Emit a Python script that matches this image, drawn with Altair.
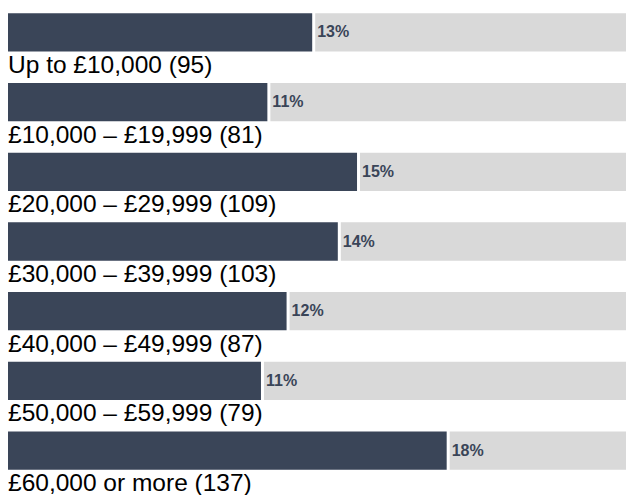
import altair as alt
import pandas as pd

categories = [
    "Up to £10,000",
    "£10,000 – £19,999",
    "£20,000 – £29,999",
    "£30,000 – £39,999",
    "£40,000 – £49,999",
    "£50,000 – £59,999",
    "£60,000 or more",
]
counts = [95, 81, 109, 103, 87, 79, 137]
pct_labels = ["13%", "11%", "15%", "14%", "12%", "11%", "18%"]
scale_max = 193.0

df = pd.DataFrame({
    "category": categories,
    "count": counts,
    "pct": pct_labels,
    "label": [f"{c} ({n})" for c, n in zip(categories, counts)],
    "full": [scale_max] * len(categories),
})

DARK = "#3a4558"
GRAY = "#d9d9d9"
FONT = "Liberation Sans"

x_scale = alt.Scale(domain=[0, scale_max], nice=False, zero=True)
y_enc = alt.Y(
    "category:N",
    sort=categories,
    scale=alt.Scale(paddingInner=0.45, paddingOuter=0.076),
    axis=None,
)

base = alt.Chart(df)

gray = base.mark_bar(color=GRAY, xOffset=3, clip=True).encode(
    x=alt.X("count:Q", scale=x_scale, axis=None),
    x2="full:Q",
    y=y_enc,
)

dark = base.mark_bar(color=DARK).encode(
    x=alt.X("count:Q", scale=x_scale, axis=None),
    y=y_enc,
)

pct = base.mark_text(
    align="left", baseline="middle", dx=5, font=FONT, fontSize=16,
    fontWeight="bold", color=DARK,
).encode(
    x=alt.X("count:Q", scale=x_scale, axis=None),
    y=y_enc,
    text="pct:N",
)

labels = base.mark_text(
    align="left", baseline="alphabetic", dy=40.5, font=FONT, fontSize=24.5,
    color="#000000",
).encode(
    x=alt.value(0),
    y=y_enc,
    text="label:N",
)

chart = (
    alt.layer(gray, dark, pct, labels)
    .properties(
        width=618,
        height=467,
        autosize=alt.AutoSizeParams(type="none"),
        padding={"left": 0, "top": 0, "right": 0, "bottom": 20},
    )
    .configure_view(stroke=None)
)

chart.save("out.html", embed_options={"renderer": "svg", "actions": False})
